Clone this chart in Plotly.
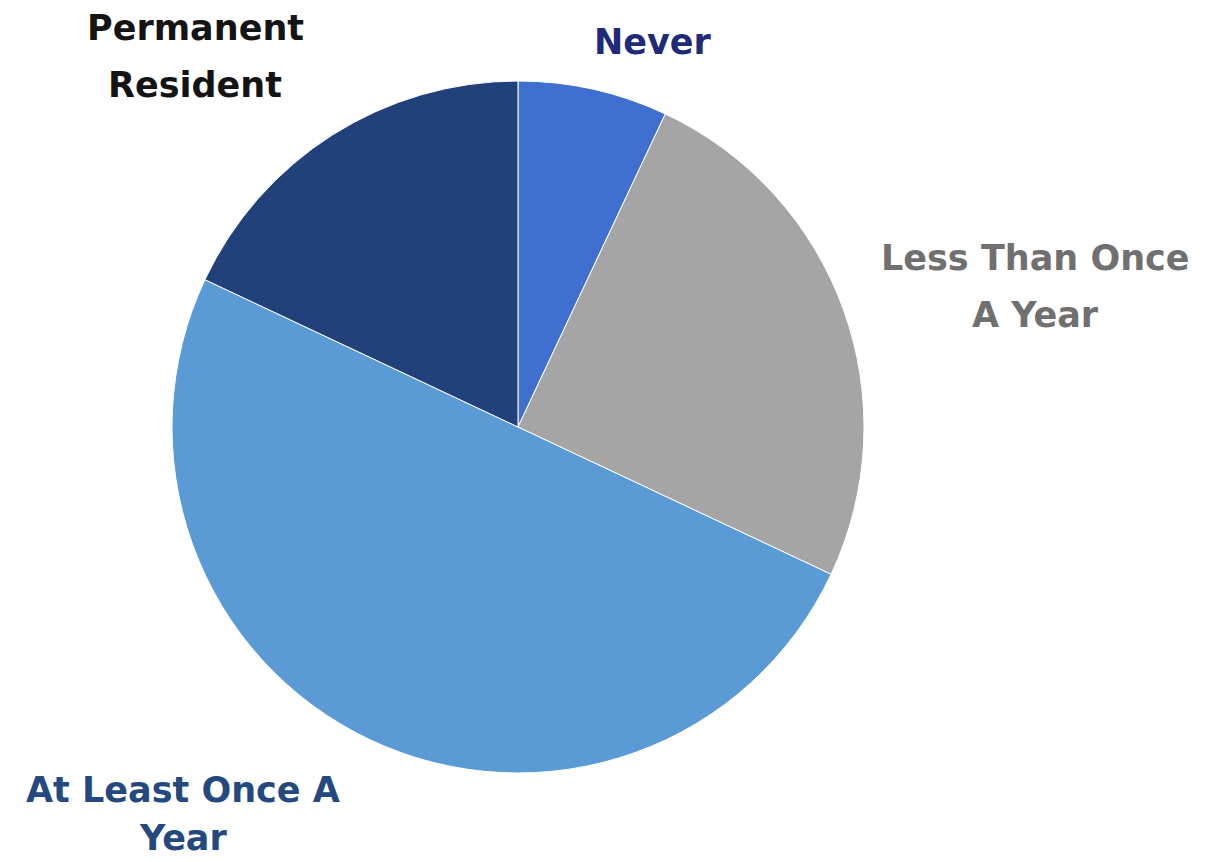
import plotly.graph_objects as go

categories = ["Never", "Less Than Once A Year", "At Least Once A Year", "Permanent Resident"]
values = [7, 25, 50, 18]
label_lines = [["Never"], ["Less Than Once", "A Year"], ["At Least Once A", "Year"], ["Permanent", "Resident"]]
slice_colors = ["#3F6FCF", "#A5A5A5", "#5B9BD5", "#22417A"]
label_colors = ["#1F2A78", "#707070", "#23497F", "#141414"]
# pixel position (center x, first-line center y) and line spacing
label_pos = [(653, 42), (1035, 258), (183, 790), (195, 28)]
line_gap = 57

W, H = 1217, 862
cx, cy, r = 518, 427, 346

fig = go.Figure(go.Pie(
    labels=categories,
    values=values,
    sort=False,
    direction="clockwise",
    rotation=0,
    marker=dict(colors=slice_colors, line=dict(color="white", width=1)),
    textinfo="none",
    hoverinfo="label+percent",
    showlegend=False,
    domain=dict(x=[(cx - r) / W, (cx + r) / W], y=[(H - cy - r) / H, (H - cy + r) / H]),
))

for lines, col, (x, y) in zip(label_lines, label_colors, label_pos):
    for i, txt in enumerate(lines):
        yy = min(y + i * line_gap, 838)
        fig.add_annotation(
            x=x / W, y=1 - yy / H, xref="paper", yref="paper",
            text="<b>" + txt + "</b>", showarrow=False,
            font=dict(family="DejaVu Sans", size=35, color=col),
            align="center", xanchor="center", yanchor="middle",
        )

fig.update_layout(
    width=W, height=H,
    margin=dict(l=0, r=0, t=0, b=0),
    paper_bgcolor="white", plot_bgcolor="white",
)

fig.write_html("out.html")
